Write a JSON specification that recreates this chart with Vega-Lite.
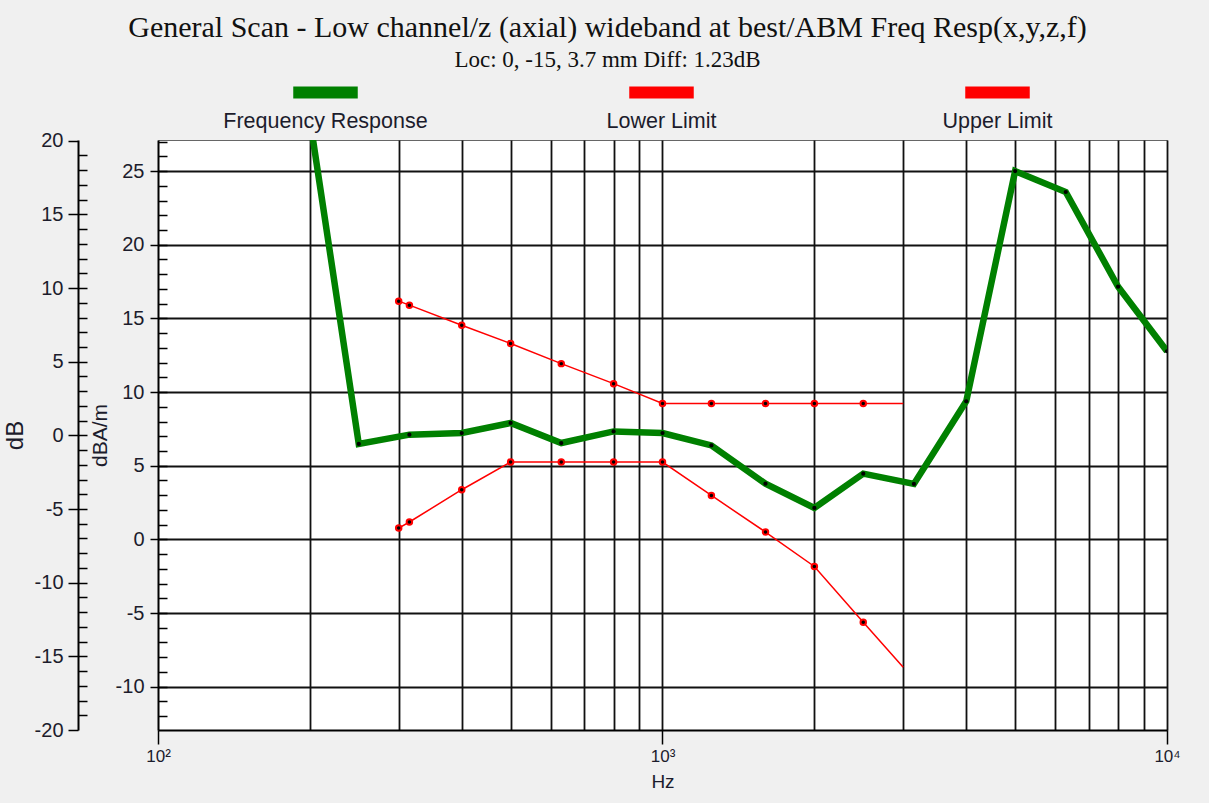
{
  "$schema": "https://vega.github.io/schema/vega-lite/v6.json",
  "width": 1009,
  "height": 590,
  "autosize": {"type": "none"},
  "padding": {"left": 158, "top": 140, "right": 42, "bottom": 73},
  "background": "#f0f0f0",
  "title": {
    "text": "General Scan - Low channel/z (axial) wideband at best/ABM Freq Resp(x,y,z,f)",
    "subtitle": "Loc: 0, -15, 3.7 mm Diff: 1.23dB",
    "font": "Liberation Serif", "fontSize": 30, "fontWeight": "normal", "color": "#111",
    "subtitleFont": "Liberation Serif", "subtitleFontSize": 23, "subtitleColor": "#111", "subtitlePadding": 6,
    "anchor": "middle", "frame": "group", "dx": -55, "offset": -60
  },
  "datasets": {
    "d": [
      {"series": "Frequency Response", "f": 200, "v": 28.55},
      {"series": "Frequency Response", "f": 250, "v": 6.48},
      {"series": "Frequency Response", "f": 315, "v": 7.11},
      {"series": "Frequency Response", "f": 400, "v": 7.22},
      {"series": "Frequency Response", "f": 500, "v": 7.90},
      {"series": "Frequency Response", "f": 630, "v": 6.54},
      {"series": "Frequency Response", "f": 800, "v": 7.33},
      {"series": "Frequency Response", "f": 1000, "v": 7.22},
      {"series": "Frequency Response", "f": 1250, "v": 6.38},
      {"series": "Frequency Response", "f": 1600, "v": 3.78},
      {"series": "Frequency Response", "f": 2000, "v": 2.13},
      {"series": "Frequency Response", "f": 2500, "v": 4.46},
      {"series": "Frequency Response", "f": 3150, "v": 3.76},
      {"series": "Frequency Response", "f": 4000, "v": 9.37},
      {"series": "Frequency Response", "f": 5000, "v": 25.0},
      {"series": "Frequency Response", "f": 6300, "v": 23.58},
      {"series": "Frequency Response", "f": 8000, "v": 17.15},
      {"series": "Frequency Response", "f": 10000, "v": 12.77},
      {"series": "Lower Limit", "f": 300, "v": 0.77},
      {"series": "Lower Limit", "f": 315, "v": 1.18},
      {"series": "Lower Limit", "f": 400, "v": 3.37},
      {"series": "Lower Limit", "f": 500, "v": 5.25},
      {"series": "Lower Limit", "f": 630, "v": 5.25},
      {"series": "Lower Limit", "f": 800, "v": 5.25},
      {"series": "Lower Limit", "f": 1000, "v": 5.25},
      {"series": "Lower Limit", "f": 1250, "v": 2.98},
      {"series": "Lower Limit", "f": 1600, "v": 0.50},
      {"series": "Lower Limit", "f": 2000, "v": -1.84},
      {"series": "Lower Limit", "f": 2500, "v": -5.62},
      {"series": "Lower Limit", "f": 3000, "v": -8.68},
      {"series": "Upper Limit", "f": 300, "v": 16.17},
      {"series": "Upper Limit", "f": 315, "v": 15.90},
      {"series": "Upper Limit", "f": 400, "v": 14.54},
      {"series": "Upper Limit", "f": 500, "v": 13.30},
      {"series": "Upper Limit", "f": 630, "v": 11.93},
      {"series": "Upper Limit", "f": 800, "v": 10.57},
      {"series": "Upper Limit", "f": 1000, "v": 9.22},
      {"series": "Upper Limit", "f": 1250, "v": 9.22},
      {"series": "Upper Limit", "f": 1600, "v": 9.22},
      {"series": "Upper Limit", "f": 2000, "v": 9.22},
      {"series": "Upper Limit", "f": 2500, "v": 9.22},
      {"series": "Upper Limit", "f": 3000, "v": 9.22}
    ]
  },
  "data": {"name": "d"},
  "layer": [
    {
      "mark": {"type": "point", "opacity": 0},
      "encoding": {
        "x": {"field": "f", "type": "quantitative", "scale": {"type": "log", "domain": [100, 10000]},
              "axis": {"orient": "bottom", "values": [200, 300, 400, 500, 600, 700, 800, 900, 1000, 2000, 3000, 4000, 5000, 6000, 7000, 8000, 9000, 10000],
                       "grid": true, "labels": false, "ticks": false, "domain": false, "title": null}},
        "y": {"field": "v", "type": "quantitative", "scale": {"domain": [-12.94, 27.11]}, "axis": null}
      }
    },
    {
      "mark": {"type": "point", "opacity": 0},
      "encoding": {
        "x": {"field": "f", "type": "quantitative", "scale": {"type": "log", "domain": [100, 10000]}, "axis": null},
        "y": {"field": "v", "type": "quantitative", "scale": {"domain": [-12.94, 27.11]},
              "axis": {"orient": "left", "values": [-12, -11, -10, -9, -8, -7, -6, -5, -4, -3, -2, -1, 0, 1, 2, 3, 4, 5, 6, 7, 8, 9, 10, 11, 12, 13, 14, 15, 16, 17, 18, 19, 20, 21, 22, 23, 24, 25, 26, 27],
                       "tickSize": -9, "labels": false, "domain": false, "grid": false, "title": null}}
      }
    },
    {
      "mark": {"type": "point", "opacity": 0},
      "encoding": {
        "x": {"field": "f", "type": "quantitative", "scale": {"type": "log", "domain": [100, 10000]}, "axis": null},
        "y": {"field": "v", "type": "quantitative", "scale": {"domain": [-20, 20.05]},
              "axis": {"orient": "left", "offset": 80, "values": [-20, -15, -10, -5, 0, 5, 10, 15, 20],
                       "labelExpr": "'' + datum.value",
                       "tickSize": 10, "labelPadding": 5, "grid": false, "title": "dB", "titleFontSize": 24, "titlePadding": 7}}
      }
    },
    {
      "mark": {"type": "point", "opacity": 0},
      "encoding": {
        "x": {"field": "f", "type": "quantitative", "scale": {"type": "log", "domain": [100, 10000]}, "axis": null},
        "y": {"field": "v", "type": "quantitative", "scale": {"domain": [-20, 20.05]},
              "axis": {"orient": "left", "offset": 80, "values": [-19, -18, -17, -16, -15, -14, -13, -12, -11, -10, -9, -8, -7, -6, -5, -4, -3, -2, -1, 0, 1, 2, 3, 4, 5, 6, 7, 8, 9, 10, 11, 12, 13, 14, 15, 16, 17, 18, 19],
                       "tickSize": -9, "labels": false, "domain": false, "grid": false, "title": null}}
      }
    },
    {
      "transform": [{"filter": "datum.series != 'Frequency Response'"}],
      "mark": {"type": "line", "strokeWidth": 1.5, "clip": true},
      "encoding": {
        "x": {"field": "f", "type": "quantitative", "scale": {"type": "log", "domain": [100, 10000]}, "axis": null},
        "y": {"field": "v", "type": "quantitative", "scale": {"domain": [-12.94, 27.11]}, "axis": null},
        "color": {"field": "series", "type": "nominal",
                  "scale": {"domain": ["Frequency Response", "Lower Limit", "Upper Limit"], "range": ["#008000", "#ff0000", "#ff0000"]},
                  "legend": {"orient": "none", "legendX": 135, "legendY": -80, "direction": "horizontal", "columns": 3, "title": null,
                             "gridAlign": "all", "columnPadding": 178, "symbolType": "M-1,-0.17H1V0.17H-1Z", "symbolSize": 3969,
                             "symbolStrokeWidth": 1.5, "symbolStrokeColor": "#000", "labelOffset": -32.5, "labelAlign": "center", "labelFont": "Liberation Sans",
                             "labelFontSize": 21.5, "labelColor": "#1c1c2c", "labelLimit": 400,
                             "encode": {"symbols": {"update": {"fill": {"scale": "color", "field": "value"}, "fillOpacity": {"value": 1}, "stroke": {"value": "#000"}, "strokeWidth": {"value": 1.5}, "opacity": {"value": 1}}},
                                        "labels": {"update": {"dy": {"value": 29}}}}}}
      }
    },
    {
      "transform": [{"filter": "datum.series == 'Frequency Response'"}],
      "mark": {"type": "line", "strokeWidth": 6.5, "clip": true},
      "encoding": {
        "x": {"field": "f", "type": "quantitative", "scale": {"type": "log", "domain": [100, 10000]},
              "axis": {"orient": "bottom", "values": [100, 1000, 10000], "tickSize": 14, "grid": false,
                       "labelExpr": "datum.value == 100 ? '10²' : datum.value == 1000 ? '10³' : '10⁴'",
                       "labelFont": "Liberation Sans", "labelFontSize": 17, "labelPadding": 4,
                       "title": "Hz", "titleFont": "Liberation Sans", "titleFontSize": 19, "titlePadding": 8}},
        "y": {"field": "v", "type": "quantitative", "scale": {"domain": [-12.94, 27.11]},
              "axis": {"orient": "left", "values": [-10, -5, 0, 5, 10, 15, 20, 25], "grid": true, "tickSize": 8, "labelPadding": 6,
                       "labelExpr": "'' + datum.value",
                       "title": "dBA/m", "titleFontSize": 21, "titlePadding": 5}},
        "color": {"field": "series", "type": "nominal",
                  "scale": {"domain": ["Frequency Response", "Lower Limit", "Upper Limit"], "range": ["#008000", "#ff0000", "#ff0000"]},
                  "legend": {"orient": "none", "legendX": 135, "legendY": -80, "direction": "horizontal", "columns": 3, "title": null,
                             "gridAlign": "all", "columnPadding": 178, "symbolType": "M-1,-0.17H1V0.17H-1Z", "symbolSize": 3969,
                             "symbolStrokeWidth": 1.5, "symbolStrokeColor": "#000", "labelOffset": -32.5, "labelAlign": "center", "labelFont": "Liberation Sans",
                             "labelFontSize": 21.5, "labelColor": "#1c1c2c", "labelLimit": 400,
                             "encode": {"symbols": {"update": {"fill": {"scale": "color", "field": "value"}, "fillOpacity": {"value": 1}, "stroke": {"value": "#000"}, "strokeWidth": {"value": 1.5}, "opacity": {"value": 1}}},
                                        "labels": {"update": {"dy": {"value": 29}}}}}}
      }
    },
    {
      "transform": [{"filter": "datum.series == 'Frequency Response'"}],
      "mark": {"type": "circle", "size": 18, "color": "#000", "opacity": 1, "clip": true},
      "encoding": {
        "x": {"field": "f", "type": "quantitative", "scale": {"type": "log", "domain": [100, 10000]}, "axis": null},
        "y": {"field": "v", "type": "quantitative", "scale": {"domain": [-12.94, 27.11]}, "axis": null}
      }
    },
    {
      "transform": [{"filter": "datum.series != 'Frequency Response' && datum.f < 3000"}],
      "mark": {"type": "circle", "size": 30, "fill": "#000", "stroke": "#ff0000", "strokeWidth": 2, "opacity": 1, "clip": true},
      "encoding": {
        "x": {"field": "f", "type": "quantitative", "scale": {"type": "log", "domain": [100, 10000]}, "axis": null},
        "y": {"field": "v", "type": "quantitative", "scale": {"domain": [-12.94, 27.11]}, "axis": null}
      }
    }
  ],
  "resolve": {
    "scale": {"x": "independent", "y": "independent"},
    "axis": {"x": "independent", "y": "independent"}
  },
  "config": {
    "view": {"fill": "white", "stroke": "#666", "strokeWidth": 1},
    "axis": {
      "labelFont": "Liberation Sans", "labelFontSize": 20, "labelColor": "#1c1c2c",
      "titleFont": "Liberation Sans", "titleFontWeight": "normal", "titleColor": "#1c1c2c",
      "domainColor": "#000", "domainWidth": 2, "tickColor": "#000", "tickWidth": 1.5,
      "gridColor": "#111", "gridOpacity": 1, "gridWidth": 1.8, "labelFlush": false
    }
  }
}
